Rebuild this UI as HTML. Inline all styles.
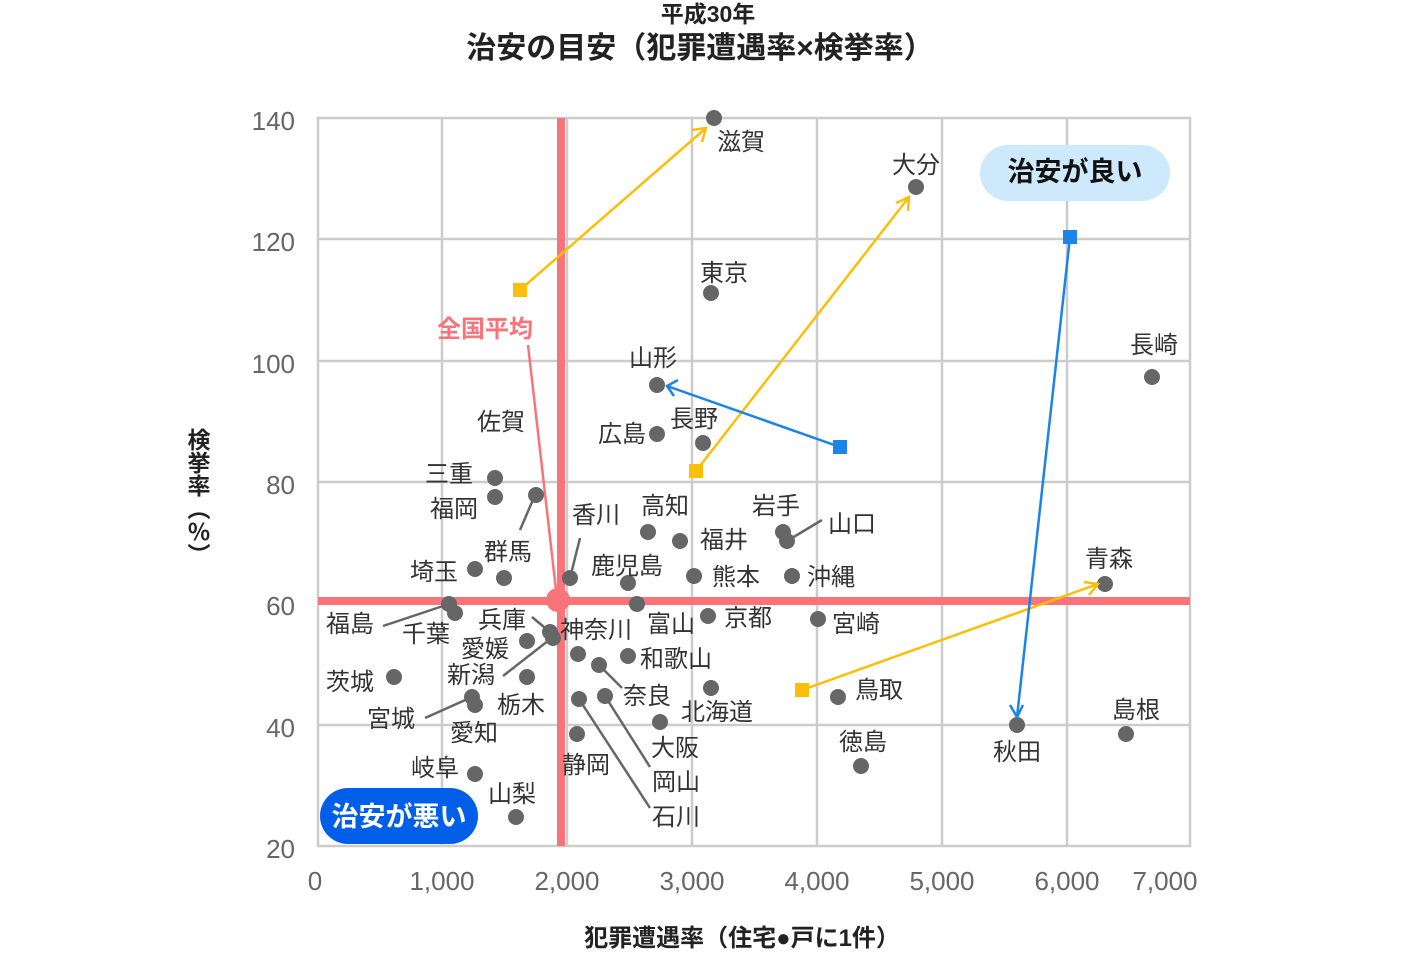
<!DOCTYPE html><html><head><meta charset="utf-8"><style>body{margin:0;background:#fff}svg{display:block}text{font-family:"Liberation Sans","Noto Sans CJK JP",sans-serif}</style></head><body>
<svg width="1420" height="960" viewBox="0 0 1420 960">
<text x="708" y="22" font-size="23" font-weight="bold" text-anchor="middle" fill="#222">平成30年</text>
<text x="700" y="58" font-size="30" font-weight="bold" text-anchor="middle" fill="#222">治安の目安（犯罪遭遇率×検挙率）</text>
<g stroke="#ccc" stroke-width="2.5" fill="none">
<rect x="318" y="118" width="872" height="728"/>
<line x1="442" y1="118" x2="442" y2="846"/><line x1="692" y1="118" x2="692" y2="846"/><line x1="817" y1="118" x2="817" y2="846"/><line x1="942" y1="118" x2="942" y2="846"/><line x1="1067" y1="118" x2="1067" y2="846"/><line x1="567" y1="118" x2="567" y2="846"/>
<line x1="318" y1="239" x2="1190" y2="239"/><line x1="318" y1="361" x2="1190" y2="361"/><line x1="318" y1="482" x2="1190" y2="482"/><line x1="318" y1="725" x2="1190" y2="725"/>
</g>
<g font-size="26" fill="#666" text-anchor="end">
<text x="295" y="130">140</text><text x="295" y="251">120</text><text x="295" y="373">100</text><text x="295" y="494">80</text><text x="295" y="615">60</text><text x="295" y="737">40</text><text x="295" y="858">20</text></g>
<g font-size="26" fill="#666" text-anchor="middle">
<text x="315" y="890">0</text><text x="442" y="890">1,000</text><text x="567" y="890">2,000</text><text x="692" y="890">3,000</text><text x="817" y="890">4,000</text><text x="942" y="890">5,000</text><text x="1067" y="890">6,000</text><text x="1165" y="890">7,000</text></g>
<text x="742" y="946" font-size="24" font-weight="bold" text-anchor="middle" fill="#222">犯罪遭遇率（住宅●戸に1件）</text>
<text x="197" y="428" font-size="23" font-weight="bold" writing-mode="tb" fill="#222">検挙率（％）</text>
<line x1="561" y1="118" x2="561" y2="846" stroke="#f8737a" stroke-width="8"/>
<line x1="318" y1="601" x2="1190" y2="601" stroke="#f8737a" stroke-width="8"/>
<circle cx="558" cy="600" r="12" fill="#f8737a"/>
<line x1="528" y1="345" x2="556" y2="590" stroke="#f8737a" stroke-width="2.5"/>
<text x="485" y="337" font-size="24" font-weight="bold" fill="#f8737a" text-anchor="middle">全国平均</text>
<g stroke="#666" stroke-width="2.5">
<line x1="383" y1="626" x2="449" y2="604"/><line x1="532" y1="617" x2="550" y2="632"/><line x1="503" y1="676" x2="553" y2="637"/>
<line x1="425" y1="718" x2="472" y2="697"/><line x1="535" y1="495" x2="520" y2="530"/><line x1="570" y1="578" x2="580" y2="538"/>
<line x1="787" y1="541" x2="822" y2="520"/><line x1="599" y1="665" x2="622" y2="688"/><line x1="605" y1="696" x2="650" y2="767"/><line x1="579" y1="699" x2="650" y2="808"/></g>
<g fill="#666">
<circle cx="714" cy="118" r="8"/><circle cx="916" cy="187" r="8"/><circle cx="711" cy="293" r="8"/><circle cx="1152" cy="377" r="8"/><circle cx="657" cy="385" r="8"/><circle cx="657" cy="434" r="8"/><circle cx="703" cy="443" r="8"/><circle cx="495" cy="478" r="8"/><circle cx="536" cy="495" r="8"/><circle cx="495" cy="497" r="8"/><circle cx="648" cy="532" r="8"/><circle cx="680" cy="541" r="8"/><circle cx="783" cy="532" r="8"/><circle cx="787" cy="541" r="8"/><circle cx="570" cy="578" r="8"/><circle cx="628" cy="583" r="8"/><circle cx="694" cy="576" r="8"/><circle cx="792" cy="576" r="8"/><circle cx="504" cy="578" r="8"/><circle cx="475" cy="569" r="8"/><circle cx="1105" cy="584" r="8"/><circle cx="637" cy="604" r="8"/><circle cx="449" cy="604" r="8"/><circle cx="455" cy="613" r="8"/><circle cx="708" cy="616" r="8"/><circle cx="818" cy="619" r="8"/><circle cx="550" cy="632" r="8"/><circle cx="553" cy="638" r="8"/><circle cx="527" cy="641" r="8"/><circle cx="578" cy="654" r="8"/><circle cx="628" cy="656" r="8"/><circle cx="599" cy="665" r="8"/><circle cx="394" cy="677" r="8"/><circle cx="527" cy="677" r="8"/><circle cx="711" cy="688" r="8"/><circle cx="838" cy="697" r="8"/><circle cx="472" cy="697" r="8"/><circle cx="475" cy="705" r="8"/><circle cx="579" cy="699" r="8"/><circle cx="605" cy="696" r="8"/><circle cx="577" cy="734" r="8"/><circle cx="660" cy="722" r="8"/><circle cx="1017" cy="725" r="8"/><circle cx="1126" cy="734" r="8"/><circle cx="861" cy="766" r="8"/><circle cx="475" cy="774" r="8"/><circle cx="516" cy="817" r="8"/></g>
<g stroke="#fbbf0a" stroke-width="2.5" fill="none">
<line x1="520" y1="290" x2="706" y2="128"/><polyline points="692,130 706,128 702,142"/>
<line x1="696" y1="471" x2="909" y2="197"/><polyline points="896,203 909,197 908,211"/>
<line x1="802" y1="690" x2="1098" y2="584"/><polyline points="1084,582 1098,584 1089,595"/></g>
<g stroke="#1a84e8" stroke-width="2.5" fill="none">
<line x1="840" y1="447" x2="667" y2="386"/><polyline points="678,380 667,386 674,396"/>
<line x1="1070" y1="237" x2="1017" y2="717"/><polyline points="1010,705 1017,717 1023,705"/></g>
<g fill="#fbbf0a"><rect x="513" y="283" width="14" height="14"/><rect x="689" y="464" width="14" height="14"/><rect x="795" y="683" width="14" height="14"/></g>
<g fill="#1a84e8"><rect x="833" y="440" width="14" height="14"/><rect x="1063" y="230" width="14" height="14"/></g>
<g font-size="24" fill="#333">
<text x="717" y="150">滋賀</text><text x="892" y="173">大分</text><text x="700" y="281">東京</text><text x="1130" y="353">長崎</text><text x="629" y="366">山形</text><text x="598" y="442">広島</text><text x="670" y="427">長野</text><text x="425" y="482">三重</text><text x="477" y="430">佐賀</text><text x="430" y="517">福岡</text><text x="641" y="514">高知</text><text x="700" y="548">福井</text><text x="752" y="514">岩手</text><text x="828" y="532">山口</text><text x="572" y="523">香川</text><text x="591" y="574">鹿児島</text><text x="712" y="585">熊本</text><text x="807" y="585">沖縄</text><text x="484" y="560">群馬</text><text x="410" y="580">埼玉</text><text x="1085" y="567">青森</text><text x="647" y="632">富山</text><text x="326" y="632">福島</text><text x="402" y="642">千葉</text><text x="724" y="626">京都</text><text x="832" y="632">宮崎</text><text x="478" y="628">兵庫</text><text x="560" y="638">神奈川</text><text x="461" y="657">愛媛</text><text x="640" y="667">和歌山</text><text x="623" y="704">奈良</text><text x="326" y="690">茨城</text><text x="447" y="683">新潟</text><text x="497" y="713">栃木</text><text x="681" y="720">北海道</text><text x="855" y="698">鳥取</text><text x="367" y="727">宮城</text><text x="450" y="741">愛知</text><text x="562" y="773">静岡</text><text x="651" y="756">大阪</text><text x="993" y="760">秋田</text><text x="1112" y="718">島根</text><text x="839" y="750">徳島</text><text x="411" y="776">岐阜</text><text x="488" y="802">山梨</text><text x="652" y="790">岡山</text><text x="652" y="825">石川</text></g>
<rect x="980" y="145" width="190" height="56" rx="28" fill="#cde9fb"/>
<text x="1075" y="181" font-size="27" font-weight="bold" fill="#111" text-anchor="middle">治安が良い</text>
<rect x="320" y="788" width="158" height="56" rx="28" fill="#005ee8"/>
<text x="399" y="826" font-size="27" font-weight="bold" fill="#fff" text-anchor="middle">治安が悪い</text>
</svg></body></html>
